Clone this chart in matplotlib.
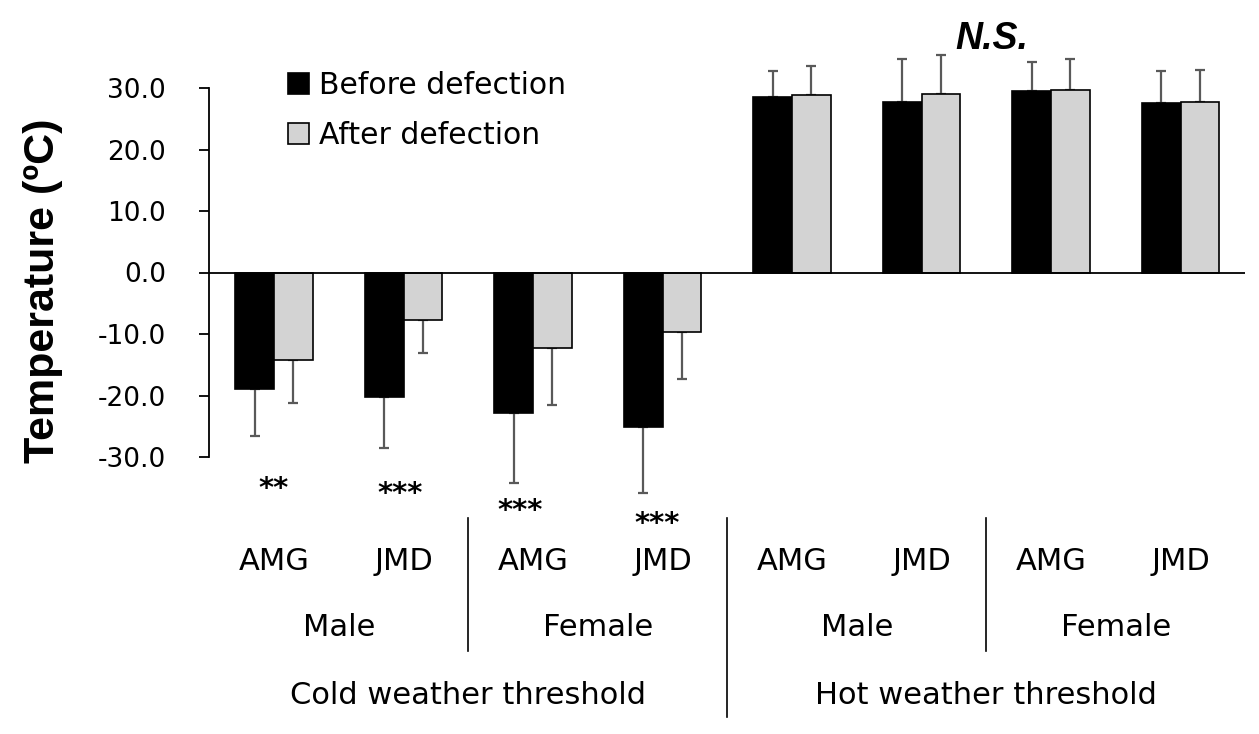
import matplotlib
matplotlib.use("Agg")
import matplotlib.pyplot as plt
import numpy as np
from matplotlib.patches import Patch
from matplotlib.transforms import blended_transform_factory

# group order: cold male AMG, cold male JMD, cold female AMG, cold female JMD, then hot in same order
breeds = ['AMG', 'JMD', 'AMG', 'JMD', 'AMG', 'JMD', 'AMG', 'JMD']
sexes = ['Male', 'Female', 'Male', 'Female']
thresholds = ['Cold weather threshold', 'Hot weather threshold']

before = [-18.9, -20.3, -22.9, -25.1, 28.6, 27.8, 29.5, 27.5]
after = [-14.3, -7.8, -12.3, -9.6, 28.9, 29.1, 29.6, 27.7]
before_err = [7.7, 8.2, 11.4, 10.7, 4.2, 6.9, 4.7, 5.3]
after_err = [7.0, 5.3, 9.3, 7.7, 4.6, 6.3, 5.1, 5.3]

stars = ['**', '***', '***', '***']
star_x = [0.5, 1.47, 2.4, 3.46]
star_y = [-36.5, -37.3, -40.1, -42.2]

yticks = [-30, -20, -10, 0, 10, 20, 30]

grey = '#d3d3d3'
err_col = '#595959'
label_font = 'DejaVu Sans'

fig = plt.figure(figsize=(12.59, 7.34), dpi=100)
ax = fig.add_axes([209.3 / 1259, 1 - 457 / 734, 1036 / 1259, 369 / 734])

x = np.arange(len(before)) + 0.5
w = 0.3

ax.bar(x - w / 2, before, w, color='black', edgecolor='black', linewidth=1.2, zorder=3)
ax.bar(x + w / 2, after, w, color=grey, edgecolor='black', linewidth=1.2, zorder=3)


def one_sided(vals, errs):
    lo = [e if v < 0 else 0 for v, e in zip(vals, errs)]
    hi = [e if v >= 0 else 0 for v, e in zip(vals, errs)]
    return [lo, hi]


for xs, vals, errs in [(x - w / 2, before, before_err), (x + w / 2, after, after_err)]:
    eb = ax.errorbar(xs, vals, yerr=one_sided(vals, errs), fmt='none', ecolor=err_col,
                     elinewidth=1.6, capsize=3.5, capthick=1.6, zorder=2)
    for art in eb.get_children():
        art.set_clip_on(False)

ax.axhline(0, color='black', linewidth=1.3, zorder=4)

ax.set_xlim(0, 8)
ax.set_ylim(-30, 30)
ax.set_yticks(yticks)
ax.set_yticklabels([f'{t:.1f}' for t in yticks], fontsize=19, family=label_font)
ax.set_xticks([])
for side in ['top', 'right', 'bottom']:
    ax.spines[side].set_visible(False)
ax.spines['left'].set_linewidth(1.3)
ax.tick_params(axis='y', direction='out', length=7, width=1.3, pad=24)

fig.text(43 / 1259, 1 - 291 / 734, 'Temperature (ºC)', rotation=90, ha='center', va='center',
         fontsize=31, fontweight='bold', family='Liberation Sans')

# significance marks
for s, sx, sy in zip(stars, star_x, star_y):
    ax.text(sx, sy, s, ha='center', va='baseline', fontsize=21, fontweight='bold',
            family=label_font, clip_on=False)
ax.text(6.045, 38.0, 'N.S.', ha='center', va='center', fontsize=27, fontweight='bold',
        fontstyle='italic', family='Liberation Sans', clip_on=False)

# hierarchical category labels under the axes
tr = blended_transform_factory(ax.transData, fig.transFigure)
for xi, b in zip(x, breeds):
    ax.text(xi, 1 - 561 / 734, b, transform=tr, ha='center', va='center', fontsize=22, family=label_font)
for i, s in enumerate(sexes):
    ax.text(2 * i + 1, 1 - 628 / 734, s, transform=tr, ha='center', va='center', fontsize=22, family=label_font)
for i, t in enumerate(thresholds):
    ax.text(4 * i + 2, 1 - 695 / 734, t, transform=tr, ha='center', va='center', fontsize=22, family=label_font)

for sep in [2, 6]:
    ax.plot([sep, sep], [1 - 518 / 734, 1 - 651 / 734], transform=tr, color='black', linewidth=1.2, clip_on=False)
ax.plot([4, 4], [1 - 518 / 734, 1 - 717 / 734], transform=tr, color='black', linewidth=1.2, clip_on=False)

handles = [Patch(facecolor='black', edgecolor='black', linewidth=1.2),
           Patch(facecolor=grey, edgecolor='black', linewidth=1.2)]
ax.legend(handles, ['Before defection', 'After defection'], loc='upper left',
          bbox_to_anchor=(0.076, 1.045), frameon=False, borderpad=0, borderaxespad=0,
          handlelength=0.7, handleheight=0.7, handletextpad=0.35, labelspacing=0.68,
          prop={'family': label_font, 'size': 21.5})

fig.savefig('out.png', dpi=100)
